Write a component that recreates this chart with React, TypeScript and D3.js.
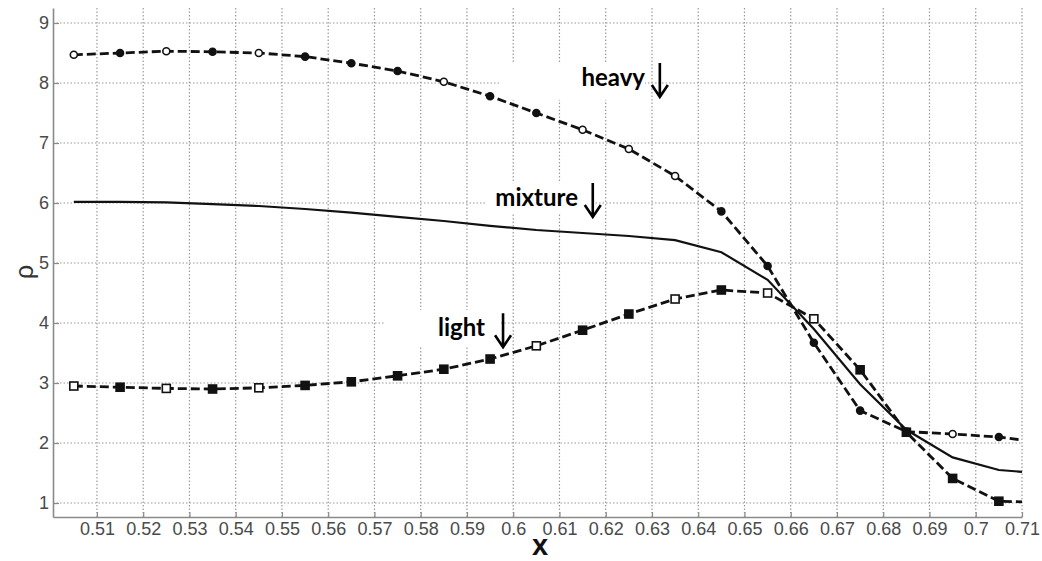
import React, { useRef, useEffect } from "react";
import * as d3 from "d3";

// sample positions (the last one, 0.71, carries no marker)
const xValues = [0.505, 0.515, 0.525, 0.535, 0.545, 0.555, 0.565, 0.575, 0.585, 0.595, 0.605,
  0.615, 0.625, 0.635, 0.645, 0.655, 0.665, 0.675, 0.685, 0.695, 0.705, 0.71];

const heavy = [8.47, 8.5, 8.53, 8.52, 8.5, 8.44, 8.33, 8.2, 8.02, 7.78, 7.5,
  7.22, 6.9, 6.45, 5.86, 4.95, 3.67, 2.54, 2.19, 2.15, 2.1, 2.05];
const mixture = [6.02, 6.02, 6.01, 5.98, 5.95, 5.9, 5.84, 5.77, 5.7, 5.62, 5.55,
  5.5, 5.45, 5.38, 5.18, 4.72, 3.9, 2.98, 2.22, 1.76, 1.55, 1.52];
const light = [2.95, 2.93, 2.91, 2.9, 2.92, 2.96, 3.02, 3.12, 3.23, 3.4, 3.62,
  3.88, 4.15, 4.4, 4.55, 4.5, 4.07, 3.22, 2.18, 1.41, 1.03, 1.02];

// marker fill, 1 = filled, 0 = open
const heavyFill = [0, 1, 0, 1, 0, 1, 1, 1, 0, 1, 1, 0, 0, 0, 1, 1, 1, 1, 1, 0, 1];
const lightFill = [0, 1, 0, 1, 0, 1, 1, 1, 1, 1, 0, 1, 1, 0, 1, 0, 0, 1, 1, 1, 1];

const xTicks = [0.51, 0.52, 0.53, 0.54, 0.55, 0.56, 0.57, 0.58, 0.59, 0.6, 0.61,
  0.62, 0.63, 0.64, 0.65, 0.66, 0.67, 0.68, 0.69, 0.7, 0.71];
const yTicks = [1, 2, 3, 4, 5, 6, 7, 8, 9];

// text end / arrow position / white box [x0, x1, y0, y1], in data units
const labels = [
  { text: "heavy", x: 0.6285, y: 8.05, arrowX: 0.6317, box: [0.5971, 0.6285, 7.72, 8.33] },
  { text: "mixture", x: 0.614, y: 6.05, arrowX: 0.6172, box: [0.5939, 0.6166, 5.83, 6.33] },
  { text: "light", x: 0.5939, y: 3.88, arrowX: 0.5978, box: [0.5723, 0.5971, 3.6, 4.22] },
];

const App = () => {
  const svgRef = useRef<SVGSVGElement>(null);

  useEffect(() => {
    const width = 1042;
    const height = 561;
    const svg = d3.select(svgRef.current).attr("width", width).attr("height", height);
    svg.selectAll("*").remove();

    const xScale = d3.scaleLinear().domain([0.5005, 0.71]).range([53, 1022]);
    const yScale = d3.scaleLinear().domain([0.767, 9.25]).range([517, 8]);
    const [x0, x1] = xScale.range();
    const [y0, y1] = yScale.range();

    // dotted grid
    const grid = svg.append("g").attr("stroke", "#9a9a9a").attr("stroke-width", 1.2)
      .attr("stroke-dasharray", "1.5,2");
    grid.selectAll("line.v").data(xTicks).enter().append("line")
      .attr("x1", (d) => xScale(d)).attr("x2", (d) => xScale(d))
      .attr("y1", y0).attr("y2", y1);
    grid.selectAll("line.h").data(yTicks).enter().append("line")
      .attr("y1", (d) => yScale(d)).attr("y2", (d) => yScale(d))
      .attr("x1", x0).attr("x2", x1);

    // white boxes behind the annotations
    svg.append("g").selectAll("rect").data(labels).enter().append("rect")
      .attr("x", (d) => xScale(d.box[0]))
      .attr("y", (d) => yScale(d.box[3]))
      .attr("width", (d) => xScale(d.box[1]) - xScale(d.box[0]))
      .attr("height", (d) => yScale(d.box[2]) - yScale(d.box[3]))
      .attr("fill", "#fff");

    // axes
    const xAxis = d3.axisBottom(xScale).tickValues(xTicks).tickSizeInner(-5).tickSizeOuter(0)
      .tickPadding(5).tickFormat((d) => String(+d));
    const gx = svg.append("g").attr("transform", `translate(0,${y0})`).call(xAxis);
    const yAxis = d3.axisLeft(yScale).tickValues(yTicks).tickSizeInner(-6).tickSizeOuter(0)
      .tickPadding(4).tickFormat((d) => String(d));
    const gy = svg.append("g").attr("transform", `translate(${x0},0)`).call(yAxis);
    [gx, gy].forEach((g) => {
      g.select(".domain").attr("stroke", "#8a8a8a").attr("stroke-width", 1.6);
      g.selectAll(".tick line").attr("stroke", "#8a8a8a").attr("stroke-width", 1.2);
      g.selectAll(".tick text").attr("fill", "#4a4a4a")
        .attr("font-family", "'Liberation Sans', Arial, sans-serif").attr("font-size", 18);
    });

    const line = d3.line<number>().x((d, i) => xScale(xValues[i])).y((d) => yScale(d));

    svg.append("path").datum(mixture).attr("d", line).attr("fill", "none")
      .attr("stroke", "#111").attr("stroke-width", 2.2);
    svg.append("path").datum(heavy).attr("d", line).attr("fill", "none")
      .attr("stroke", "#111").attr("stroke-width", 2.8).attr("stroke-dasharray", "9,4");
    svg.append("path").datum(light).attr("d", line).attr("fill", "none")
      .attr("stroke", "#111").attr("stroke-width", 2.8).attr("stroke-dasharray", "9,4");

    svg.append("g").selectAll("circle").data(heavyFill).enter().append("circle")
      .attr("cx", (d, i) => xScale(xValues[i]))
      .attr("cy", (d, i) => yScale(heavy[i]))
      .attr("r", 3.5)
      .attr("fill", (d) => (d ? "#111" : "#fff"))
      .attr("stroke", "#111").attr("stroke-width", 1.6);

    svg.append("g").selectAll("rect").data(lightFill).enter().append("rect")
      .attr("x", (d, i) => xScale(xValues[i]) - 4)
      .attr("y", (d, i) => yScale(light[i]) - 4)
      .attr("width", 8).attr("height", 8)
      .attr("fill", (d) => (d ? "#111" : "#fff"))
      .attr("stroke", "#111").attr("stroke-width", 1.6);

    // annotations with down arrows
    const ann = svg.append("g");
    labels.forEach((l) => {
      ann.append("text").attr("x", xScale(l.x)).attr("y", yScale(l.y))
        .attr("text-anchor", "end").attr("dominant-baseline", "middle")
        .attr("font-family", "Lato, 'Open Sans', sans-serif").attr("font-weight", 700)
        .attr("font-size", 24).attr("fill", "#000").text(l.text);
      const ax = xScale(l.arrowX);
      const top = yScale(l.y) - 17;
      const bottom = yScale(l.y) + 17;
      ann.append("path")
        .attr("d", `M${ax},${top}V${bottom}M${ax - 8},${bottom - 12}L${ax},${bottom}L${ax + 8},${bottom - 12}`)
        .attr("fill", "none").attr("stroke", "#000").attr("stroke-width", 2.6);
    });

    // axis titles
    svg.append("text").attr("x", xScale(0.6058)).attr("y", 555)
      .attr("text-anchor", "middle").attr("font-family", "'Liberation Sans', Arial, sans-serif")
      .attr("font-weight", 700).attr("font-size", 29).attr("fill", "#111").text("x");
    svg.append("text").attr("transform", `translate(33,${yScale(4.85)}) rotate(-90)`)
      .attr("text-anchor", "middle").attr("font-family", "'Liberation Sans', Arial, sans-serif")
      .attr("font-size", 25).attr("fill", "#333").text("ρ");
  }, []);

  return <svg ref={svgRef} style={{ position: "absolute", left: 0, top: 0, background: "#fff" }}></svg>;
};

export default App;
